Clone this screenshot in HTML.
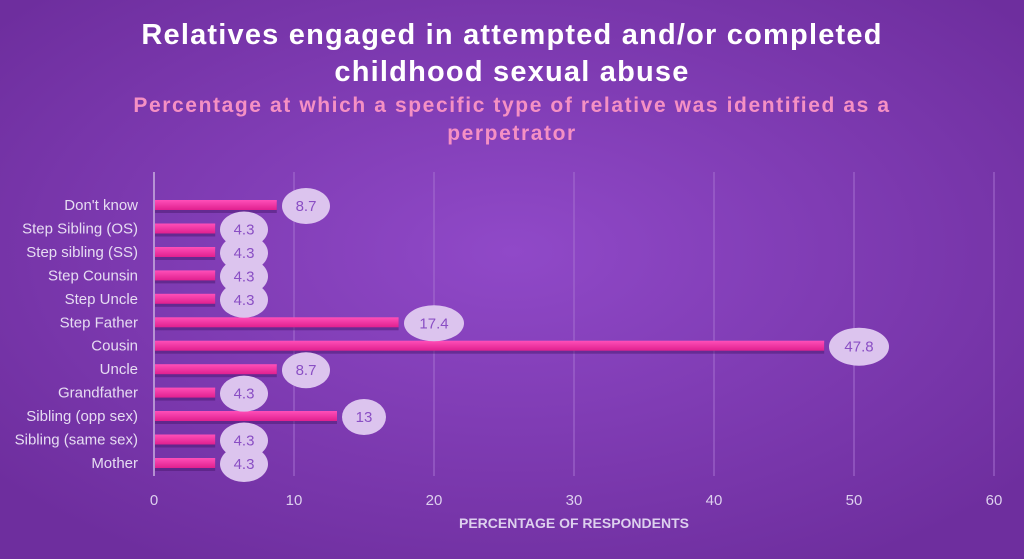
<!DOCTYPE html>
<html><head><meta charset="utf-8"><style>
html,body{margin:0;padding:0;width:1024px;height:559px;overflow:hidden}
</style></head><body>
<svg width="1024" height="559" xmlns="http://www.w3.org/2000/svg" font-family="Liberation Sans, sans-serif">
<defs>
<radialGradient id="bg" cx="50%" cy="45%" r="65%">
<stop offset="0" stop-color="#9049c8"/><stop offset="1" stop-color="#6e2e9e"/>
</radialGradient>
<linearGradient id="bar" x1="0" y1="0" x2="0" y2="1">
<stop offset="0" stop-color="#ff4fb8"/><stop offset="1" stop-color="#e0208f"/>
</linearGradient>
</defs>
<rect width="1024" height="559" fill="url(#bg)"/>
<text x="512" y="44" fill="#fff" font-size="29" font-weight="bold" text-anchor="middle" letter-spacing="1.2">Relatives engaged in attempted and/or completed</text>
<text x="512" y="81" fill="#fff" font-size="29" font-weight="bold" text-anchor="middle" letter-spacing="1.2">childhood sexual abuse</text>
<text x="512" y="112" fill="#f590c4" font-size="21" font-weight="bold" text-anchor="middle" letter-spacing="1.6">Percentage at which a specific type of relative was identified as a</text>
<text x="512" y="140" fill="#f590c4" font-size="21" font-weight="bold" text-anchor="middle" letter-spacing="1.6">perpetrator</text>
<g stroke="#a56fd0" stroke-width="1">
<line x1="294" y1="172" x2="294" y2="476"/><line x1="434" y1="172" x2="434" y2="476"/>
<line x1="574" y1="172" x2="574" y2="476"/><line x1="714" y1="172" x2="714" y2="476"/>
<line x1="854" y1="172" x2="854" y2="476"/><line x1="994" y1="172" x2="994" y2="476"/>
</g>
<line x1="154" y1="172" x2="154" y2="476" stroke="#c9b0e0" stroke-width="1.5"/>
<g fill="#ddd0ee" font-size="15" text-anchor="middle">
<text x="154" y="505">0</text><text x="294" y="505">10</text><text x="434" y="505">20</text>
<text x="574" y="505">30</text><text x="714" y="505">40</text><text x="854" y="505">50</text><text x="994" y="505">60</text>
</g>
<text x="574" y="528" fill="#ddd0ee" font-size="14" font-weight="bold" text-anchor="middle">PERCENTAGE OF RESPONDENTS</text>

<g font-size="15" fill="#e6dcf2" text-anchor="end">
<text x="138" y="210">Don't know</text>
<text x="138" y="233.5">Step Sibling (OS)</text>
<text x="138" y="257">Step sibling (SS)</text>
<text x="138" y="280.4">Step Counsin</text>
<text x="138" y="303.8">Step Uncle</text>
<text x="138" y="327.3">Step Father</text>
<text x="138" y="350.7">Cousin</text>
<text x="138" y="374.2">Uncle</text>
<text x="138" y="397.6">Grandfather</text>
<text x="138" y="421">Sibling (opp sex)</text>
<text x="138" y="444.5">Sibling (same sex)</text>
<text x="138" y="468">Mother</text>
</g>

<g fill="#4a1a70" opacity="0.5">
<rect x="155" y="202" width="121.8" height="11"/>
<rect x="155" y="225.5" width="60.2" height="11"/>
<rect x="155" y="249" width="60.2" height="11"/>
<rect x="155" y="272.4" width="60.2" height="11"/>
<rect x="155" y="295.8" width="60.2" height="11"/>
<rect x="155" y="319.3" width="243.6" height="11"/>
<rect x="155" y="342.7" width="669.2" height="11"/>
<rect x="155" y="366.2" width="121.8" height="11"/>
<rect x="155" y="389.6" width="60.2" height="11"/>
<rect x="155" y="413" width="182" height="11"/>
<rect x="155" y="436.5" width="60.2" height="11"/>
<rect x="155" y="460" width="60.2" height="11"/>
</g>
<g fill="url(#bar)">
<rect x="155" y="200" width="121.8" height="10"/>
<rect x="155" y="223.5" width="60.2" height="10"/>
<rect x="155" y="247" width="60.2" height="10"/>
<rect x="155" y="270.4" width="60.2" height="10"/>
<rect x="155" y="293.8" width="60.2" height="10"/>
<rect x="155" y="317.3" width="243.6" height="10"/>
<rect x="155" y="340.7" width="669.2" height="10"/>
<rect x="155" y="364.2" width="121.8" height="10"/>
<rect x="155" y="387.6" width="60.2" height="10"/>
<rect x="155" y="411" width="182" height="10"/>
<rect x="155" y="434.5" width="60.2" height="10"/>
<rect x="155" y="458" width="60.2" height="10"/>
</g>

<g fill="#dcc4ee">
<ellipse cx="306" cy="206" rx="24" ry="18"/>
<ellipse cx="244" cy="229.5" rx="24" ry="18"/>
<ellipse cx="244" cy="253" rx="24" ry="18"/>
<ellipse cx="244" cy="276.4" rx="24" ry="18"/>
<ellipse cx="244" cy="299.8" rx="24" ry="18"/>
<ellipse cx="434" cy="323.3" rx="30" ry="18"/>
<ellipse cx="859" cy="346.7" rx="30" ry="19"/>
<ellipse cx="306" cy="370.2" rx="24" ry="18"/>
<ellipse cx="244" cy="393.6" rx="24" ry="18"/>
<ellipse cx="364" cy="417" rx="22" ry="18"/>
<ellipse cx="244" cy="440.5" rx="24" ry="18"/>
<ellipse cx="244" cy="464" rx="24" ry="18"/>
</g>
<g fill="#8a4fc4" font-size="15" text-anchor="middle">
<text x="306" y="211">8.7</text>
<text x="244" y="234.5">4.3</text>
<text x="244" y="258">4.3</text>
<text x="244" y="281.4">4.3</text>
<text x="244" y="304.8">4.3</text>
<text x="434" y="328.3">17.4</text>
<text x="859" y="351.7">47.8</text>
<text x="306" y="375.2">8.7</text>
<text x="244" y="398.6">4.3</text>
<text x="364" y="422">13</text>
<text x="244" y="445.5">4.3</text>
<text x="244" y="469">4.3</text>
</g>
</svg>
</body></html>
